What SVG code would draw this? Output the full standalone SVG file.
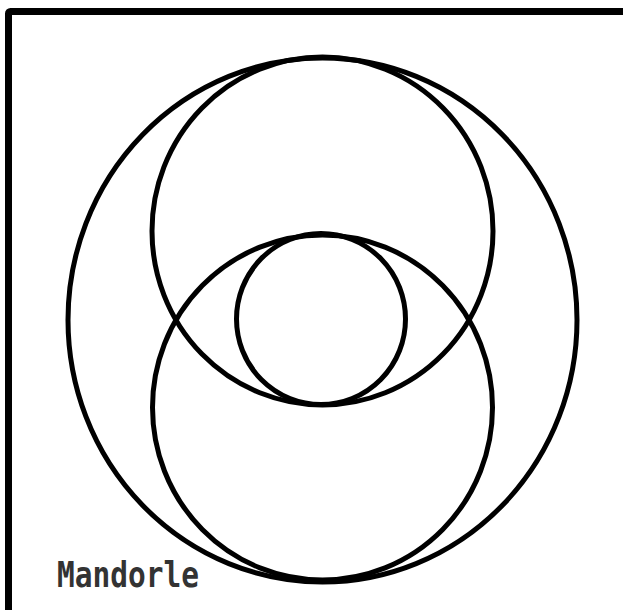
<svg xmlns="http://www.w3.org/2000/svg" width="623" height="610" viewBox="0 0 623 610">
<style>
.c{fill:none;stroke:#000;stroke-width:5}
.t{font-family:"DejaVu Sans Mono","Liberation Mono",monospace;font-weight:bold;font-size:29.5px;fill:#333}
</style>
<rect width="623" height="610" fill="#fff"/>
<rect x="8.5" y="11.5" width="640" height="640" fill="none" stroke="#000" stroke-width="7" rx="2"/>
<g id="outer"><ellipse class="c" cx="322.5" cy="320" rx="254.5" ry="262"/></g>
<g id="upper"><ellipse class="c" cx="322.5" cy="231" rx="170.5" ry="174"/></g>
<g id="lower"><ellipse class="c" cx="322.5" cy="407.5" rx="170" ry="172.5"/></g>
<g id="inner"><ellipse class="c" cx="321" cy="319" rx="84.5" ry="85.5"/></g>
<g id="connectors"></g>
<text class="t" transform="translate(57,587) scale(1,1.2)">Mandorle</text>
</svg>
